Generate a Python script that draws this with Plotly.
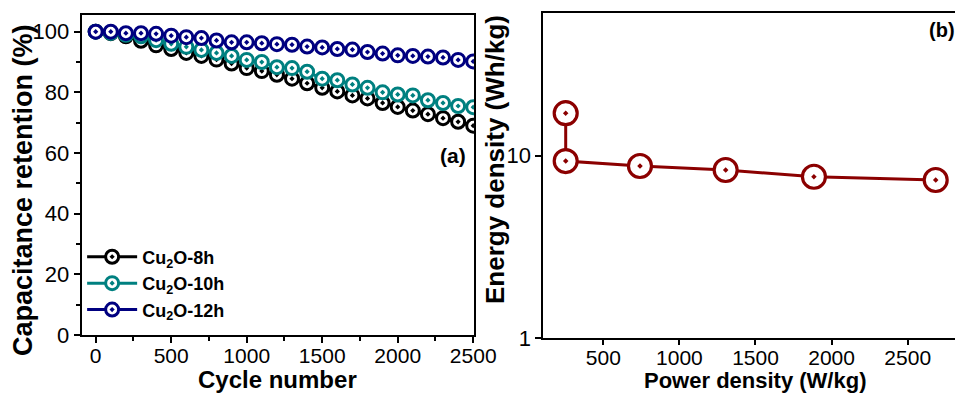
import plotly.graph_objects as go

cycles = list(range(0, 2501, 100))
ret_8h = [100, 99.5, 98.5, 97, 95.5, 94.3, 93, 92, 90.8, 89.5, 88, 87, 85.8, 84.5, 83,
          81.5, 80.3, 79, 78, 76.5, 75.2, 74, 72.8, 71.5, 70.3, 69]
ret_10h = [100, 99.6, 99, 98.5, 97.2, 96, 95, 94, 93, 92, 90.7, 90, 88.3, 88, 86.8,
           84.5, 84, 82.6, 81.5, 80, 79.3, 79, 77.4, 76.5, 75.5, 75.1]
ret_12h = [100, 100, 99.5, 99.5, 99.3, 98.7, 98.2, 97.9, 97.1, 96.5, 96.5, 96.2, 95.9,
           95.7, 95.1, 94.8, 94.3, 94.1, 93.3, 92.8, 92.2, 92.0, 91.8, 91.5, 90.7, 90.2]

power = [253, 253, 741, 1304, 1884, 2684]
energy = [17.1, 9.35, 8.78, 8.35, 7.67, 7.36]

FONT = "Arial, Liberation Sans, sans-serif"
fig = go.Figure()

series = [("<b>Cu<sub>2</sub>O-8h</b>", ret_8h, "#000000"),
          ("<b>Cu<sub>2</sub>O-10h</b>", ret_10h, "#008080"),
          ("<b>Cu<sub>2</sub>O-12h</b>", ret_12h, "#000080")]
for name, ys, col in series:
    fig.add_trace(go.Scatter(
        x=cycles, y=ys, name=name, mode="lines+markers",
        line=dict(color=col, width=3),
        marker=dict(symbol="circle-dot", size=13, color="white",
                    line=dict(color=col, width=3)),
        xaxis="x", yaxis="y"))

fig.add_trace(go.Scatter(
    x=power, y=energy, mode="lines+markers", showlegend=False,
    line=dict(color="#8B0000", width=3),
    marker=dict(symbol="circle-dot", size=23, color="white",
                line=dict(color="#8B0000", width=3.2)),
    xaxis="x2", yaxis="y2"))

axis_common = dict(showgrid=False, zeroline=False, showline=True, linecolor="black",
                   linewidth=2, ticks="outside", tickcolor="black", tickwidth=2,
                   automargin=False, tickfont=dict(family=FONT, size=22, color="black"))

fig.update_layout(
    width=955, height=393, margin=dict(l=0, r=0, t=0, b=0),
    paper_bgcolor="white", plot_bgcolor="white",
    font=dict(family=FONT, color="black"),
    xaxis=dict(domain=[0.0855, 0.4963], range=[-93, 2505], tickvals=[0, 500, 1000, 1500, 2000, 2500],
               ticklen=6, mirror=True, ticklabelstandoff=-5,
               minor=dict(tickvals=[250, 750, 1250, 1750, 2250], ticks="outside", ticklen=4,
                          tickcolor="black", tickwidth=2),
               anchor="y", **{**axis_common, "tickfont": dict(family=FONT, size=21, color="black")}),
    yaxis=dict(domain=[0.1476, 0.9618], range=[0, 105.5], tickvals=[0, 20, 40, 60, 80, 100],
               ticklen=6, mirror=True,
               minor=dict(tickvals=[10, 30, 50, 70, 90], ticks="outside", ticklen=4,
                          tickcolor="black", tickwidth=2),
               anchor="x", **axis_common),
    xaxis2=dict(domain=[0.5689, 1.0], range=[105.8, 2810.8], tickvals=[500, 1000, 1500, 2000, 2500],
                ticklen=5, mirror=True, anchor="y2", ticklabelstandoff=-5,
                **{**axis_common, "tickfont": dict(family=FONT, size=21, color="black")}),
    yaxis2=dict(domain=[0.1392, 0.9662], type="log", range=[0, 1.78], tickvals=[1, 10],
                ticktext=["1", "10"], ticklen=6, anchor="x2", **axis_common),
    legend=dict(x=0.086, y=0.393, xanchor="left", yanchor="top", bgcolor="rgba(0,0,0,0)",
                font=dict(family=FONT, size=18, color="black"), tracegroupgap=0,
                itemwidth=50),
    annotations=[
        dict(text="<b>Capacitance retention (%)</b>", xref="paper", yref="paper",
             x=23 / 955, y=1 - 190 / 393, textangle=-90, showarrow=False,
             font=dict(family=FONT, size=27, color="black"), xanchor="center", yanchor="middle"),
        dict(text="<b>Cycle number</b>", xref="paper", yref="paper",
             x=277 / 955, y=1 - 379.5 / 393, showarrow=False,
             font=dict(family=FONT, size=24, color="black"), xanchor="center", yanchor="middle"),
        dict(text="<b>Energy density (Wh/kg)</b>", xref="paper", yref="paper",
             x=495 / 955, y=1 - 160 / 393, textangle=-90, showarrow=False,
             font=dict(family=FONT, size=26, color="black"), xanchor="center", yanchor="middle"),
        dict(text="<b>Power density (W/kg)</b>", xref="paper", yref="paper",
             x=755 / 955, y=1 - 380 / 393, showarrow=False,
             font=dict(family=FONT, size=22, color="black"), xanchor="center", yanchor="middle"),
        dict(text="<b>(a)</b>", xref="paper", yref="paper",
             x=468 / 955, y=1 - 155 / 393, showarrow=False,
             font=dict(family=FONT, size=21, color="black"), xanchor="right", yanchor="middle"),
        dict(text="<b>(b)</b>", xref="paper", yref="paper",
             x=927 / 955, y=1 - 30 / 393, showarrow=False,
             font=dict(family=FONT, size=20, color="black"), xanchor="left", yanchor="middle"),
    ],
)

fig.write_html("out.html")
